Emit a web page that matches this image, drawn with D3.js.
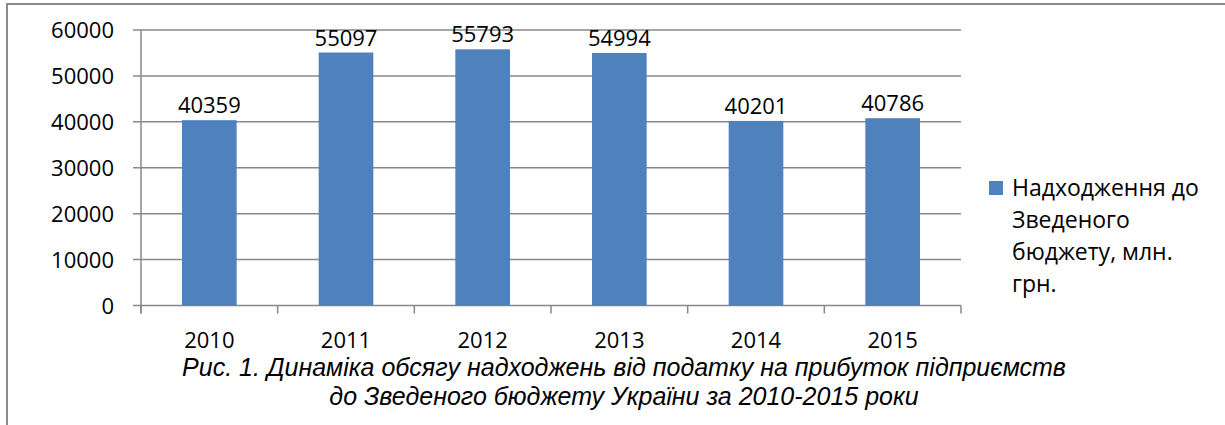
<!DOCTYPE html>
<html>
<head>
<meta charset="utf-8">
<script src="https://cdn.jsdelivr.net/npm/d3@7"></script>
<style>
  body { margin: 0; background: #fff; }
  svg text { fill: #000; }
  .axis-text { font-family: "Open Sans", sans-serif; font-size: 22px; }
  .legend-text { font-family: "Open Sans", sans-serif; font-size: 23px; }
  .caption { font-family: "Liberation Sans", Arial, sans-serif; font-size: 25px; font-style: italic; }
</style>
</head>
<body>
<svg width="1225" height="425"></svg>
<script>
// chart data
var years = ['2010', '2011', '2012', '2013', '2014', '2015'];
var revenues = [40359, 55097, 55793, 54994, 40201, 40786];
var yTicks = [0, 10000, 20000, 30000, 40000, 50000, 60000];
var legendLines = ['Надходження до', 'Зведеного', 'бюджету, млн.', 'грн.'];
var captionLines = [
    'Рис. 1. Динаміка обсягу надходжень від податку на прибуток підприємств',
    'до Зведеного бюджету України за 2010-2015 роки'
];

var svg = d3.select('svg');

// frame (only left and top edges are visible in the picture)
svg.append('path')
    .attr('d', 'M7,425V4H1225')
    .attr('fill', 'none')
    .attr('stroke', '#8c8c8c')
    .attr('stroke-width', 2);

var plot = {l: 141, r: 961, t: 30, b: 305.5};

var xScale = d3.scaleBand()
    .domain(years)
    .range([plot.l, plot.r])
    .padding(0);

var yScale = d3.scaleLinear()
    .domain([0, 60000])
    .range([plot.b, plot.t]);

// gridlines
svg.append('g')
    .selectAll('line')
    .data(yTicks)
    .enter()
    .append('line')
    .attr('x1', plot.l - 8)
    .attr('x2', plot.r)
    .attr('y1', function(d) { return yScale(d); })
    .attr('y2', function(d) { return yScale(d); })
    .attr('stroke', '#888')
    .attr('stroke-width', 1.5);

// y axis line
svg.append('line')
    .attr('x1', plot.l).attr('x2', plot.l)
    .attr('y1', plot.t).attr('y2', plot.b + 8)
    .attr('stroke', '#888')
    .attr('stroke-width', 1.5);

// x axis ticks between categories
var xTickPos = years.map(function(d) { return xScale(d); }).concat([plot.r]);
svg.append('g')
    .selectAll('line')
    .data(xTickPos)
    .enter()
    .append('line')
    .attr('x1', function(d) { return d; })
    .attr('x2', function(d) { return d; })
    .attr('y1', plot.b)
    .attr('y2', plot.b + 8)
    .attr('stroke', '#888')
    .attr('stroke-width', 1.5);

// y labels
svg.append('g')
    .selectAll('text')
    .data(yTicks)
    .enter()
    .append('text')
    .attr('class', 'axis-text')
    .attr('x', 114)
    .attr('y', function(d) { return yScale(d) + 8; })
    .attr('text-anchor', 'end')
    .text(function(d) { return d; });

// x labels
svg.append('g')
    .selectAll('text')
    .data(years)
    .enter()
    .append('text')
    .attr('class', 'axis-text')
    .attr('x', function(d) { return xScale(d) + xScale.bandwidth() / 2; })
    .attr('y', 348)
    .attr('text-anchor', 'middle')
    .text(function(d) { return d; });

// bars
var barW = xScale.bandwidth() * 0.4;
var bars = svg.append('g')
    .selectAll('.bar')
    .data(years)
    .enter()
    .append('g')
    .attr('class', 'bar');

bars.append('rect')
    .attr('x', function(d) { return xScale(d) + (xScale.bandwidth() - barW) / 2; })
    .attr('y', function(d, i) { return yScale(revenues[i]); })
    .attr('width', barW)
    .attr('height', function(d, i) { return plot.b - yScale(revenues[i]); })
    .attr('fill', '#4f81bd');

bars.append('text')
    .attr('class', 'axis-text')
    .attr('x', function(d) { return xScale(d) + xScale.bandwidth() / 2; })
    .attr('y', function(d, i) { return yScale(revenues[i]) - 7; })
    .attr('text-anchor', 'middle')
    .text(function(d, i) { return revenues[i]; });

// legend
svg.append('rect')
    .attr('x', 989).attr('y', 181)
    .attr('width', 14).attr('height', 14)
    .attr('fill', '#4f81bd');

svg.append('g')
    .selectAll('text')
    .data(legendLines)
    .enter()
    .append('text')
    .attr('class', 'legend-text')
    .attr('x', 1012)
    .attr('y', function(d, i) { return 196 + i * 32; })
    .text(function(d) { return d; });

// caption
svg.append('g')
    .selectAll('text')
    .data(captionLines)
    .enter()
    .append('text')
    .attr('class', 'caption')
    .attr('x', 624)
    .attr('y', function(d, i) { return 376 + i * 29; })
    .attr('text-anchor', 'middle')
    .text(function(d) { return d; });
</script>
</body>
</html>
